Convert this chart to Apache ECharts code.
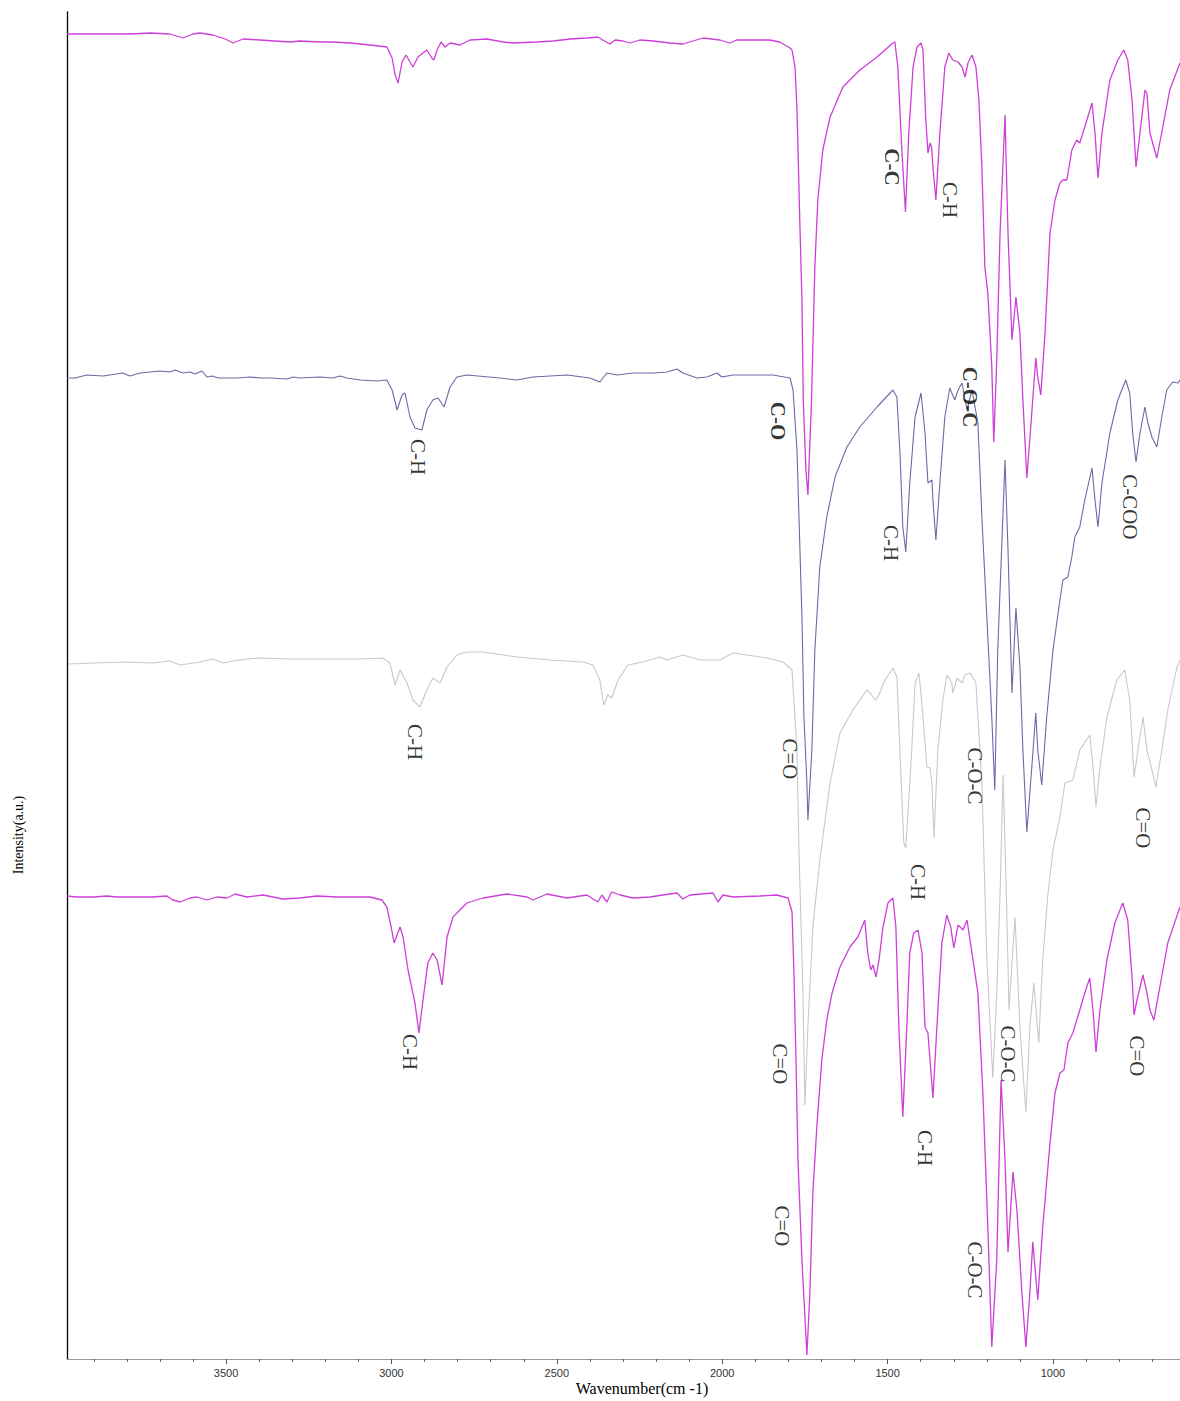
<!DOCTYPE html>
<html><head><meta charset="utf-8">
<script src="https://cdn.jsdelivr.net/npm/echarts@6.0.0/dist/echarts.min.js"></script>
<style>html,body{margin:0;padding:0;background:#fff}#c{width:1180px;height:1401px}</style>
</head><body><div id="c"></div>
<script>
// x: wavenumber (cm-1), y: intensity (a.u., stacked offsets)
const spectrumTop = [[3981,1322],[3881,1322],[3791,1322],[3730,1323],[3670,1322],[3630,1318],[3600,1322],[3579,1323],[3540,1321],[3503,1317],[3479,1313],[3449,1317],[3398,1316],[3352,1315],[3307,1314],[3277,1315],[3216,1314],[3177,1314],[3125,1313],[3065,1311],[3014,1309],[2998,1298],[2989,1281],[2980,1273],[2968,1294],[2956,1301],[2944,1294],[2935,1289],[2920,1299],[2905,1303],[2893,1306],[2878,1298],[2872,1296],[2862,1306],[2850,1314],[2838,1309],[2823,1313],[2793,1311],[2763,1316],[2711,1317],[2663,1314],[2633,1313],[2560,1314],[2512,1315],[2460,1317],[2409,1318],[2376,1319],[2361,1316],[2340,1312],[2324,1316],[2300,1315],[2279,1313],[2249,1316],[2209,1315],[2158,1313],[2119,1312],[2058,1318],[2007,1316],[1977,1313],[1956,1316],[1907,1316],[1856,1316],[1826,1314],[1795,1308],[1789,1306],[1780,1289],[1774,1246],[1765,1129],[1759,1056],[1755,956],[1747,886],[1741,861],[1730,956],[1720,1089],[1711,1156],[1696,1206],[1674,1239],[1635,1269],[1584,1286],[1532,1299],[1484,1313],[1478,1314],[1469,1289],[1457,1206],[1446,1144],[1436,1223],[1423,1289],[1411,1309],[1399,1313],[1393,1306],[1385,1239],[1378,1203],[1372,1213],[1367,1209],[1363,1189],[1354,1156],[1342,1223],[1327,1289],[1315,1303],[1303,1296],[1287,1294],[1275,1289],[1266,1279],[1257,1293],[1245,1301],[1233,1289],[1224,1256],[1215,1189],[1206,1089],[1197,1063],[1185,989],[1179,914],[1170,996],[1160,1123],[1145,1241],[1136,1123],[1124,1016],[1112,1059],[1100,1023],[1091,956],[1079,878],[1065,939],[1052,998],[1046,979],[1037,961],[1024,1023],[1009,1123],[994,1156],[979,1173],[970,1176],[958,1176],[943,1206],[928,1216],[919,1213],[904,1229],[882,1253],[873,1223],[864,1178],[852,1223],[828,1276],[804,1296],[786,1306],[774,1296],[761,1256],[749,1189],[737,1223],[722,1266],[716,1263],[707,1223],[686,1198],[668,1229],[647,1266],[616,1293]];

const spectrumSecond = [[3981,978],[3957,978],[3921,981],[3872,980],[3812,983],[3791,980],[3760,983],[3700,985],[3670,984],[3654,986],[3630,983],[3609,984],[3594,982],[3573,985],[3558,979],[3543,980],[3524,978],[3467,978],[3428,979],[3398,978],[3367,978],[3316,977],[3298,979],[3277,978],[3216,979],[3177,978],[3156,980],[3135,978],[3095,976],[3044,975],[3014,976],[2998,966],[2983,946],[2968,961],[2959,963],[2944,939],[2929,928],[2908,926],[2893,946],[2875,956],[2859,958],[2841,949],[2823,969],[2802,979],[2772,981],[2672,978],[2621,976],[2572,979],[2469,981],[2400,978],[2370,974],[2349,983],[2318,981],[2270,983],[2209,983],[2167,984],[2137,987],[2119,983],[2076,978],[2046,979],[2016,983],[2001,979],[1968,981],[1916,981],[1847,981],[1795,978],[1786,966],[1774,906],[1768,839],[1759,739],[1753,639],[1744,573],[1741,536],[1729,606],[1720,706],[1705,789],[1684,839],[1659,879],[1623,909],[1584,929],[1532,949],[1484,966],[1472,959],[1463,906],[1454,829],[1445,804],[1433,873],[1417,939],[1399,963],[1387,923],[1378,873],[1366,876],[1363,856],[1354,816],[1342,873],[1327,939],[1312,968],[1297,956],[1287,966],[1275,973],[1260,946],[1245,966],[1227,933],[1215,839],[1200,739],[1185,639],[1176,566],[1167,706],[1145,896],[1136,806],[1124,663],[1112,748],[1100,689],[1091,606],[1079,524],[1064,589],[1052,643],[1046,606],[1034,571],[1019,639],[1000,706],[979,756],[970,776],[955,779],[943,799],[934,819],[919,829],[904,856],[882,888],[873,856],[864,829],[852,873],[828,923],[804,956],[780,976],[768,963],[759,923],[749,894],[737,923],[722,949],[713,933],[701,919],[686,909],[671,939],[656,966],[638,974],[622,973],[616,976]];

const spectrumThird = [[3978,692],[3902,693],[3800,694],[3721,693],[3670,695],[3639,691],[3579,694],[3540,697],[3509,693],[3479,695],[3437,697],[3398,698],[3298,697],[3195,697],[3095,697],[3026,698],[3005,693],[2989,671],[2974,686],[2953,673],[2935,656],[2914,649],[2893,666],[2875,678],[2853,673],[2832,689],[2802,701],[2772,704],[2723,704],[2621,699],[2521,696],[2421,694],[2391,691],[2370,676],[2358,651],[2346,661],[2334,658],[2315,676],[2285,691],[2240,694],[2188,699],[2167,696],[2119,701],[2067,696],[2007,696],[1968,703],[1925,701],[1865,698],[1816,694],[1789,686],[1774,606],[1768,506],[1756,363],[1750,251],[1741,329],[1726,429],[1705,496],[1674,573],[1644,623],[1605,646],[1563,666],[1553,663],[1538,656],[1529,659],[1508,676],[1484,688],[1472,679],[1463,606],[1451,513],[1445,508],[1427,606],[1417,673],[1405,683],[1393,639],[1381,589],[1372,588],[1366,573],[1360,518],[1348,606],[1333,656],[1321,681],[1306,673],[1303,663],[1290,678],[1275,673],[1266,681],[1251,683],[1233,673],[1227,639],[1215,573],[1200,396],[1182,278],[1170,363],[1160,463],[1151,581],[1142,476],[1133,346],[1115,439],[1100,329],[1082,244],[1070,329],[1058,373],[1043,313],[1031,396],[1015,463],[1000,506],[979,539],[964,573],[940,576],[919,606],[889,621],[879,589],[870,549],[858,589],[837,639],[807,676],[783,686],[768,656],[755,579],[743,606],[728,639],[716,606],[701,586],[689,569],[671,606],[653,646],[625,689],[616,696]];

const spectrumBottom = [[3981,460],[3951,459],[3902,459],[3860,460],[3830,459],[3781,459],[3721,459],[3679,460],[3661,456],[3639,454],[3609,458],[3588,459],[3558,456],[3528,459],[3497,458],[3473,462],[3437,459],[3388,461],[3358,459],[3328,457],[3277,458],[3225,460],[3165,459],[3116,459],[3065,459],[3029,456],[3014,449],[3001,429],[2992,413],[2974,429],[2965,419],[2950,386],[2929,353],[2917,323],[2902,363],[2890,393],[2875,403],[2862,396],[2847,371],[2832,419],[2814,439],[2772,453],[2723,458],[2651,462],[2590,459],[2572,456],[2530,462],[2469,458],[2409,461],[2376,454],[2364,461],[2349,454],[2334,464],[2309,461],[2270,458],[2219,459],[2179,461],[2137,463],[2119,457],[2098,461],[2028,463],[2013,454],[1998,461],[1968,459],[1886,460],[1835,461],[1801,458],[1789,444],[1783,381],[1777,296],[1771,196],[1759,96],[1744,1],[1735,63],[1726,163],[1714,229],[1699,296],[1684,336],[1668,363],[1644,389],[1614,409],[1590,419],[1569,436],[1560,403],[1551,386],[1544,391],[1535,379],[1526,396],[1514,429],[1499,453],[1484,458],[1475,429],[1466,329],[1454,239],[1442,329],[1433,403],[1421,423],[1408,426],[1396,403],[1387,329],[1378,323],[1363,258],[1351,329],[1336,413],[1321,441],[1309,429],[1300,408],[1287,431],[1272,426],[1260,436],[1245,403],[1227,363],[1212,263],[1197,129],[1185,9],[1170,96],[1157,276],[1145,196],[1136,104],[1121,184],[1109,146],[1094,63],[1082,9],[1070,63],[1061,114],[1046,56],[1031,129],[1009,213],[994,263],[979,283],[967,286],[955,313],[940,323],[919,346],[904,363],[889,378],[879,346],[870,304],[858,346],[837,396],[813,433],[789,453],[774,436],[761,379],[755,341],[746,356],[728,381],[716,363],[707,346],[695,336],[677,369],[653,413],[616,449]];

// band annotations
const bandText = ['C-C','C-H','C-O-C','C-O','C-H','C-H','C-COO','C-H','C=O','C-O-C','C=O','C-H','C-H','C=O','C-O-C','C=O','C-H','C=O','C-O-C'];
const bandWn   = [1487,1312,1251,1832,2920,1490,768,2929,1795,1236,728,1408,2944,1826,1136,746,1387,1820,1236];
const bandI    = [1189,1156,959,935,899,813,849,614,597,580,528,474,304,292,302,300,208,130,86];
const bandBold = [true,false,true,true,false,false,false,false,false,false,false,false,false,false,false,false,false,false,false];

const xTickLabels = [3500,3000,2500,2000,1500,1000];
const xMinorTicks = [700,800,900,1000,1100,1200,1300,1400,1500,1600,1700,1800,1900,2000,2100,2200,2300,2400,2500,2600,2700,2800,2900,3000,3100,3200,3300,3400,3500,3600,3700,3800,3900];

const MAG = '#cc3fd8', BLUE = '#6a6aa6', GRAY = '#c8c8c8';

const labelData = bandText.map((t,i)=>({
  name:t, value:[bandWn[i], bandI[i]],
  label: bandBold[i] ? {fontWeight:'bold'} : {}
}));

const chart = echarts.init(document.getElementById('c'), null, {renderer:'svg'});
const xBase = {type:'value', inverse:true, min:616, max:3981, splitLine:{show:false}};
chart.setOption({
  animation:false,
  backgroundColor:'#fff',
  grid:{left:67, right:0, top:12, bottom:42},
  xAxis:[
    Object.assign({}, xBase, {
      position:'bottom',
      axisLine:{show:true, onZero:false, lineStyle:{color:'#9a9a9a', width:1}},
      axisTick:{show:true, customValues:xMinorTicks, length:3, lineStyle:{color:'#666'}},
      axisLabel:{show:true, customValues:xTickLabels, formatter:v=>String(v), color:'#333', fontFamily:'Liberation Sans', fontSize:11, margin:8}
    }),
    Object.assign({}, xBase, {
      position:'bottom',
      axisLine:{show:false, onZero:false},
      axisTick:{show:true, customValues:xTickLabels, length:5, lineStyle:{color:'#555'}},
      axisLabel:{show:false}
    })
  ],
  yAxis:{type:'value', min:-3, max:1344,
    axisLine:{show:true, onZero:false, lineStyle:{color:'#000', width:1.3}},
    axisTick:{show:false}, axisLabel:{show:false}, splitLine:{show:false}},
  series:[
    {type:'line', data:spectrumTop, symbol:'none', lineStyle:{color:MAG, width:1.3}},
    {type:'line', data:spectrumSecond, symbol:'none', lineStyle:{color:BLUE, width:1.1}},
    {type:'line', data:spectrumThird, symbol:'none', lineStyle:{color:GRAY, width:1.1}},
    {type:'line', data:spectrumBottom, symbol:'none', lineStyle:{color:MAG, width:1.3}},
    {type:'scatter', data:labelData, symbolSize:0, z:10, silent:true,
      label:{show:true, position:'inside', rotate:-90, formatter:p=>p.name,
        fontFamily:'Liberation Serif', fontSize:21, color:'#000'}}
  ],
  graphic:[
    {type:'text', x:642, y:1388, style:{text:'Wavenumber(cm -1)', font:'16px "Liberation Serif"', fill:'#000', align:'center', verticalAlign:'middle'}},
    {type:'text', x:18, y:835, rotation:Math.PI/2, style:{text:'Intensity(a.u.)', font:'14px "Liberation Serif"', fill:'#000', align:'center', verticalAlign:'middle'}}
  ]
});
</script></body></html>
